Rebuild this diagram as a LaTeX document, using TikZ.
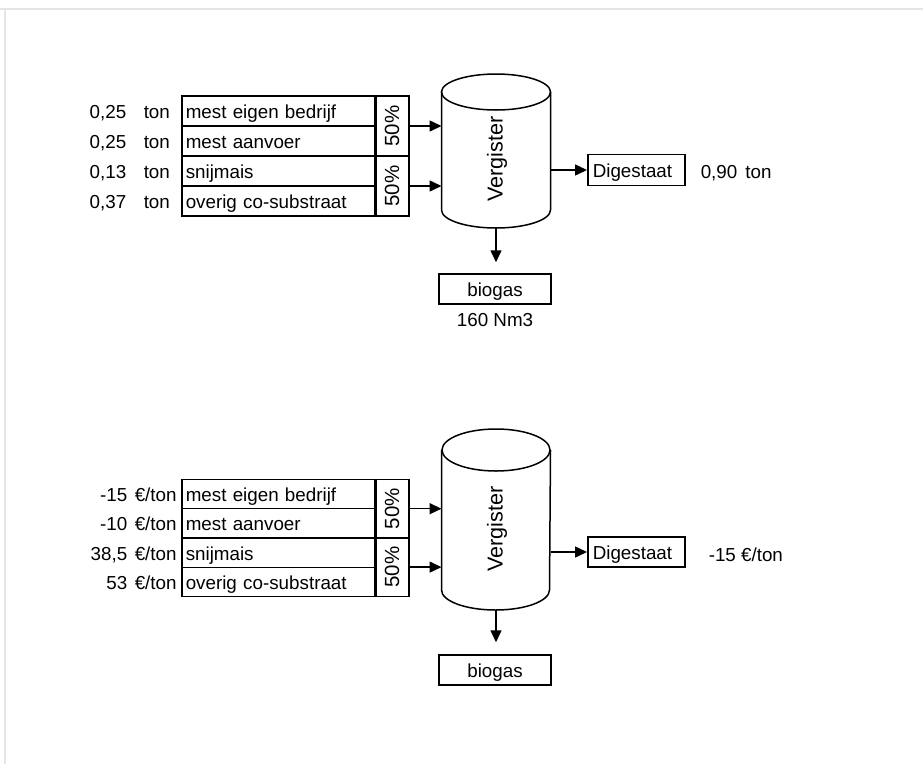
\documentclass[tikz,border=0pt]{standalone}
\usepackage{fontspec}
\setmainfont{Liberation Sans}
\usepackage{graphicx}
\usetikzlibrary{arrows.meta}
\begin{document}
\begin{tikzpicture}[x=1pt,y=-1pt,line width=1.5pt,
  font=\fontsize{18.8}{22}\selectfont,
  rij/.style={draw,anchor=west,minimum height=#1,text width=186pt,inner xsep=4pt,inner ysep=0pt,
    text height=14.5pt,text depth=0.5pt,align=left},
  pct/.style={draw,minimum width=34pt,minimum height=#1,inner sep=0pt,font=\fontsize{20.5}{22}\selectfont},
  getal/.style={anchor=east,inner sep=0pt,text height=14.5pt,text depth=0.5pt},
  eenheid/.style={anchor=west,inner sep=0pt,text height=14.5pt,text depth=0.5pt},
  vat/.style={minimum width=109pt,minimum height=#1,inner sep=0pt,outer sep=0pt},
  naam/.style={rotate=90,inner sep=0pt,font=\fontsize{21.6}{24}\selectfont},
  uit/.style={draw,anchor=west,minimum height=#1,text width=87pt,inner xsep=5pt,inner ysep=0pt,
    text height=15pt,text depth=0pt,align=left},
  gas/.style={draw,minimum width=112pt,minimum height=30pt,inner sep=0pt,text height=15pt,text depth=0pt},
  pijl/.style={-{Triangle[length=12pt,width=11pt]}},
  rand/.style={draw=black!10,line width=1.5pt}]
  \useasboundingbox (0,0) rectangle (923,764);
  \draw[rand] (0,9) -- (923,9);
  \draw[rand] (5,9) -- (5,764);

  \foreach \y/\i/\w/\t in {111/1/{0,25}/mest eigen bedrijf,141/2/{0,25}/mest aanvoer,
      171/3/{0,13}/snijmais,201/4/{0,37}/overig co-substraat}{
    \node[rij=30pt] (a\i) at (181,\y) {\t};
    \node[getal] (wa\i) at (127,\y) {\w};
    \node[eenheid] (ea\i) at (143,\y) {ton};
  }
  \node[pct=60pt] (pa1) at (392,126) {\rotatebox{90}{50\%}};
  \node[pct=60pt] (pa2) at (392,186) {\rotatebox{90}{50\%}};
  \node[vat=118pt] (vg1) at (496,151) {};
  \node[naam] (tv1) at (497,159) {Vergister};
  \draw (vg1.north) ellipse[x radius=54.5,y radius=18];
  \draw (vg1.north west) -- (vg1.south west) arc[start angle=180,end angle=0,x radius=54.5,y radius=18]
    -- (vg1.north east);
  \draw[pijl] (pa1.east) -- (pa1.east -| vg1.west);
  \draw[pijl] (pa2.east) -- (pa2.east -| vg1.west);
  \node[uit=31pt] (dg1) at (587,170) {Digestaat};
  \node[eenheid] (dw1) at (700,171) {0,90\hspace{8pt}ton};
  \draw[pijl] (vg1.east |- dg1.west) -- (dg1.west);
  \node[gas] (bg1) at (495,289) {biogas};
  \node[inner sep=0pt] (nm1) at (495,320) {160 Nm3};
  \coordinate (vb1) at (496,228);
  \draw[pijl,shorten >=11pt] (vb1) -- (vb1 |- bg1.north);

  \foreach \y/\i/\w/\t in {494/1/-15/mest eigen bedrijf,523/2/-10/mest aanvoer,
      553/3/{38,5}/snijmais,582/4/53/overig co-substraat}{
    \node[rij=29.2pt] (b\i) at (181,\y) {\t};
    \node[getal] (wb\i) at (128,\y) {\w};
    \node[eenheid] (eb\i) at (134,\y) {€/ton};
  }
  \node[pct=58.4pt] (pb1) at (392,508.7) {\rotatebox{90}{50\%}};
  \node[pct=58.4pt] (pb2) at (392,567.1) {\rotatebox{90}{50\%}};
  \node[vat=140pt] (vg2) at (496,520) {};
  \node[naam] (tv2) at (497,529) {Vergister};
  \draw (vg2.north) ellipse[x radius=54,y radius=21];
  \draw (vg2.north west) -- (vg2.south west) arc[start angle=180,end angle=0,x radius=54,y radius=20]
    -- (vg2.north east);
  \draw[pijl] (pb1.east) -- (pb1.east -| vg2.west);
  \draw[pijl] (pb2.east) -- (pb2.east -| vg2.west);
  \node[uit=30pt] (dg2) at (587,552) {Digestaat};
  \node[eenheid] (dw2) at (708,554) {-15 €/ton};
  \draw[pijl] (vg2.east |- dg2.west) -- (dg2.west);
  \node[gas] (bg2) at (495,670) {biogas};
  \coordinate (vb2) at (496,610);
  \draw[pijl,shorten >=12pt] (vb2) -- (vb2 |- bg2.north);
\end{tikzpicture}
\end{document}
